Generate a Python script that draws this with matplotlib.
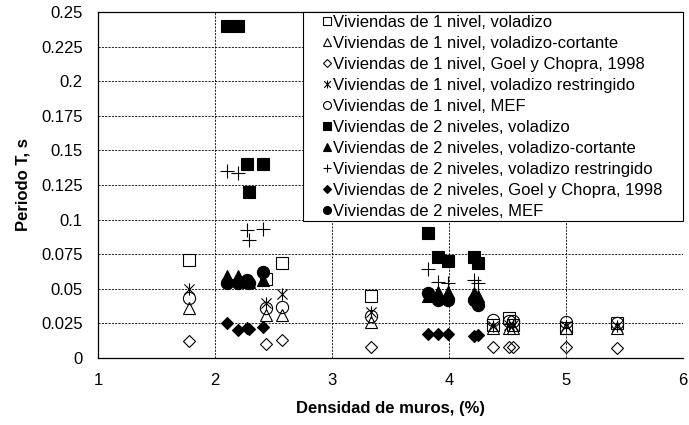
import matplotlib
matplotlib.use("Agg")
import matplotlib.pyplot as plt
from matplotlib.path import Path
from matplotlib.patches import Rectangle

plt.rcParams['font.family'] = ['Liberation Sans', 'DejaVu Sans']

# ---- data ----
x1 = [1.78, 2.44, 2.57, 3.33, 4.38, 4.51, 4.55, 5.00, 5.44]
v1_voladizo = [0.071, 0.057, 0.069, 0.045, 0.024, 0.029, 0.024, 0.022, 0.025]
v1_cortante = [0.036, 0.031, 0.031, 0.026, 0.022, 0.022, 0.022, 0.0215, 0.022]
v1_goel = [0.012, 0.010, 0.013, 0.008, 0.008, 0.008, 0.008, 0.008, 0.007]
v1_restr = [0.050, 0.040, 0.046, 0.033, 0.023, 0.024, 0.024, 0.023, 0.023]
v1_mef = [0.043, 0.036, 0.037, 0.030, 0.0275, 0.027, 0.027, 0.026, 0.025]

x2 = [2.10, 2.20, 2.27, 2.29, 2.41, 3.82, 3.91, 3.99, 4.21, 4.25]
v2_voladizo = [0.240, 0.240, 0.140, 0.120, 0.140, 0.090, 0.073, 0.070, 0.073, 0.069]
v2_cortante = [0.059, 0.059, 0.056, 0.055, 0.056, 0.045, 0.048, 0.048, 0.047, 0.045]
v2_restr = [0.135, 0.134, 0.0925, 0.085, 0.093, 0.064, 0.055, 0.054, 0.056, 0.054]
v2_goel = [0.025, 0.020, 0.022, 0.021, 0.0225, 0.017, 0.017, 0.017, 0.016, 0.0165]
v2_mef = [0.054, 0.054, 0.056, 0.054, 0.062, 0.047, 0.042, 0.042, 0.042, 0.038]

labels = [
    "Viviendas de 1 nivel, voladizo",
    "Viviendas de 1 nivel, voladizo-cortante",
    "Viviendas de 1 nivel, Goel y Chopra, 1998",
    "Viviendas de 1 nivel, voladizo restringido",
    "Viviendas de 1 nivel, MEF",
    "Viviendas de 2 niveles, voladizo",
    "Viviendas de 2 niveles, voladizo-cortante",
    "Viviendas de 2 niveles, voladizo restringido",
    "Viviendas de 2 niveles, Goel y Chopra, 1998",
    "Viviendas de 2 niveles, MEF",
]
xticks = [1, 2, 3, 4, 5, 6]
xticklabels = ["1", "2", "3", "4", "5", "6"]
yticks = [0, 0.025, 0.05, 0.075, 0.1, 0.125, 0.15, 0.175, 0.2, 0.225, 0.25]
yticklabels = ["0", "0.025", "0.05", "0.075", "0.1", "0.125", "0.15", "0.175", "0.2", "0.225", "0.25"]

# star marker (X with vertical bar)
star = Path([(-1, -1), (1, 1), (-1, 1), (1, -1), (0, -1.2), (0, 1.2)],
            [Path.MOVETO, Path.LINETO, Path.MOVETO, Path.LINETO, Path.MOVETO, Path.LINETO])

fig = plt.figure(figsize=(6.89, 4.25), dpi=100)
ax = fig.add_axes([98/689, 1-358/425, 585/689, 346/425])

ms = 8.8
lw = 0.8
series = [
    (x1, v1_voladizo, dict(marker='s', mfc='none', mec='black', ms=ms, mew=lw)),
    (x1, v1_cortante, dict(marker='^', mfc='none', mec='black', ms=ms, mew=lw)),
    (x1, v1_goel, dict(marker='D', mfc='none', mec='black', ms=6.2, mew=lw)),
    (x1, v1_restr, dict(marker=star, mfc='none', mec='black', ms=ms, mew=lw)),
    (x1, v1_mef, dict(marker='o', mfc='none', mec='black', ms=ms, mew=lw)),
    (x2, v2_voladizo, dict(marker='s', mfc='black', mec='black', ms=ms, mew=lw)),
    (x2, v2_cortante, dict(marker='^', mfc='black', mec='black', ms=ms, mew=lw)),
    (x2, v2_restr, dict(marker='+', mfc='black', mec='black', ms=ms+1, mew=lw)),
    (x2, v2_goel, dict(marker='D', mfc='black', mec='black', ms=6.2, mew=lw)),
    (x2, v2_mef, dict(marker='o', mfc='black', mec='black', ms=ms, mew=lw)),
]
handles = []
for (xs, ys, kw), lab in zip(series, labels):
    h, = ax.plot(xs, ys, linestyle='none', label=lab, zorder=3, clip_on=False, **kw)
    handles.append(h)

ax.set_xlim(1, 6)
ax.set_ylim(0, 0.25)
ax.set_xticks(xticks)
ax.set_xticklabels(xticklabels)
ax.set_yticks(yticks)
ax.set_yticklabels(yticklabels)
ax.tick_params(axis='x', length=0, pad=10.5, labelsize=12)
ax.tick_params(axis='y', length=0, pad=11, labelsize=12)
ax.grid(True, color='black', linestyle=(0, (2.5, 1.5)), linewidth=0.6, zorder=1)
ax.set_axisbelow(True)
for s in ['left', 'bottom', 'top']:
    ax.spines[s].set_linewidth(0.9)
    ax.spines[s].set_color('black')
ax.spines['right'].set_visible(False)

ax.set_xlabel("Densidad de muros, (%)", fontsize=12, fontweight='bold', va='center')
ax.xaxis.set_label_coords(0.5, (358-409)/346)
ax.set_ylabel("Periodo T, s", fontsize=12, fontweight='bold', va='center')
ax.yaxis.set_label_coords((23-98)/585, 0.5)

# legend frame
rect = Rectangle(((303-98)/585, (358-221)/346), 1-(303-98)/585, 1-(358-221)/346,
                 transform=ax.transAxes, facecolor='white', edgecolor='black',
                 linewidth=0.8, zorder=4, clip_on=False)
ax.add_patch(rect)
leg = ax.legend(handles=handles, loc='upper left', bbox_to_anchor=((322-98)/585, 1-3/346),
                frameon=False, fontsize=12, borderpad=0, handlelength=0.6,
                handletextpad=0.05, labelspacing=0.36, markerscale=0.65, borderaxespad=0)
leg.set_zorder(5)

fig.savefig("out.png", dpi=100)
